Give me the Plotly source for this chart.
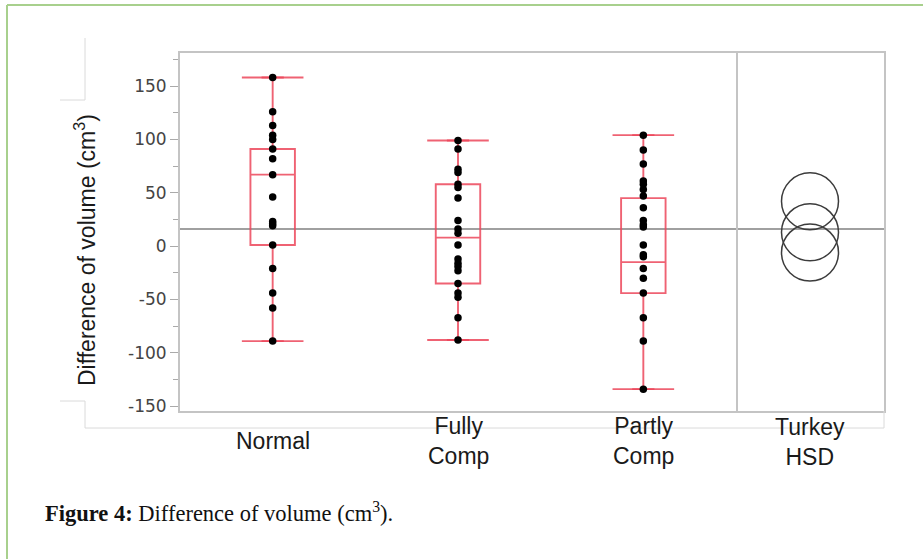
import plotly.graph_objects as go

# ---------------- data ----------------
categories = ["Normal", "Fully Comp", "Partly Comp"]
category_labels = ["Normal", "Fully<br>Comp", "Partly<br>Comp"]

normal_vals = [158, 126, 113, 104, 100, 91, 82, 67, 46, 23, 21, 19, 1, -21, -44, -58, -89]
fully_vals = [99, 91, 72, 69, 58, 55, 45, 24, 16, 12, 1, -12, -16, -19, -23, -35, -44, -48, -67, -88]
partly_vals = [104, 90, 77, 61, 58, 53, 47, 36, 24, 20, 18, 1, -8, -10, -21, -30, -44, -67, -89, -134]

q1_vals = [1, -35, -44]
median_vals = [67, 8, -15]
q3_vals = [91, 58, 45]
lower_whisker = [-89, -88, -134]
upper_whisker = [158, 99, 104]

hsd_category = ["Turkey HSD"]
hsd_label = "Turkey<br>HSD"
hsd_means = [42, 13, -6]
grand_mean = 16

y_tick_vals = [-150, -100, -50, 0, 50, 100, 150]
y_tick_text = ["-150", "-100", "-50", "0", "50", "100", "150"]
y_axis_title = "Difference of volume (cm<sup>3</sup>)"
caption_bold = "Figure 4:"
caption_text = " Difference of volume (cm<sup>3</sup>)."

# ---------------- layout helpers ----------------
W, H = 923, 559
ML, MR, MT, MB = 180, 39, 53, 148
PW, PH = W - ML - MR, H - MT - MB
SPLIT = (736 - ML) / PW


def px_x(p):
    return (p - ML) / PW


def px_y(p):
    return (H - MB - p) / PH


RED = "rgba(236,70,90,0.85)"
FRAME = "#c4c4c4"

fig = go.Figure()

groups = [normal_vals, fully_vals, partly_vals]

fig.add_trace(go.Box(
    x=categories, q1=q1_vals, median=median_vals, q3=q3_vals,
    lowerfence=lower_whisker, upperfence=upper_whisker,
    boxpoints=False, width=0.24,
    line=dict(color=RED, width=1.9), fillcolor="rgba(0,0,0,0)",
    xaxis="x", yaxis="y", showlegend=False, hoverinfo="skip"))

# whisker caps
fig.add_trace(go.Scatter(
    x=categories * 2, y=lower_whisker + upper_whisker, mode="markers",
    marker=dict(symbol="line-ew", size=44, line=dict(color=RED, width=1.9)),
    xaxis="x", yaxis="y", showlegend=False, hoverinfo="skip"))

for cat, vals in zip(categories, groups):
    fig.add_trace(go.Scatter(
        x=[cat] * len(vals), y=vals, mode="markers",
        marker=dict(color="black", size=7.5),
        xaxis="x", yaxis="y", showlegend=False))

# comparison circles
fig.add_trace(go.Scatter(
    x=hsd_category * len(hsd_means), y=hsd_means, mode="markers",
    marker=dict(symbol="circle-open", size=57, color="#3c3c3c",
                line=dict(color="#3c3c3c", width=1.5)),
    xaxis="x2", yaxis="y2", showlegend=False))

yrange = [-154.5, 181]

fig.update_layout(
    width=W, height=H,
    margin=dict(l=ML, r=MR, t=MT, b=MB),
    paper_bgcolor="white", plot_bgcolor="white",
    xaxis=dict(domain=[0, SPLIT], range=[-0.5, 2.5], type="category",
               categoryorder="array", categoryarray=categories,
               showticklabels=False, ticks="", showgrid=False, zeroline=False,
               showline=True, linecolor=FRAME, linewidth=2, mirror=True,
               anchor="y"),
    xaxis2=dict(domain=[SPLIT, 1], range=[-0.5, 0.5], type="category",
                showticklabels=False, ticks="", showgrid=False, zeroline=False,
                showline=True, linecolor=FRAME, linewidth=2, mirror=True,
                anchor="y2"),
    yaxis=dict(range=yrange, tickvals=y_tick_vals, ticktext=y_tick_text,
               ticks="outside", ticklen=8,
               tickcolor="#aaaaaa", tickwidth=1,
               minor=dict(ticks="outside", ticklen=5, dtick=25, tick0=0,
                          tickcolor="#aaaaaa"),
               tickfont=dict(family="DejaVu Sans", size=17, color="#444444"),
               showgrid=False, zeroline=False,
               showline=True, linecolor=FRAME, linewidth=2, mirror=True,
               anchor="x"),
    yaxis2=dict(range=yrange, matches="y", showticklabels=False, ticks="",
                showgrid=False, zeroline=False, side="right",
                showline=True, linecolor=FRAME, linewidth=2, mirror=False,
                anchor="x2"),
)

shapes = []
# grand mean line
shapes.append(dict(type="line", xref="paper", yref="y", x0=0, x1=1,
                   y0=grand_mean, y1=grand_mean,
                   line=dict(color="#a0a0a0", width=2), layer="below"))
# green page border
GREEN = "#a8d08d"
shapes.append(dict(type="line", xref="paper", yref="paper",
                   x0=px_x(7), x1=px_x(923), y0=px_y(5), y1=px_y(5),
                   line=dict(color=GREEN, width=2)))
shapes.append(dict(type="line", xref="paper", yref="paper",
                   x0=px_x(7), x1=px_x(7), y0=px_y(5), y1=px_y(559),
                   line=dict(color=GREEN, width=2)))
# thin report frame fragments
LIGHT = "#dadada"
for (x0, y0, x1, y1) in [(85, 38, 85, 100), (60, 100, 85, 100),
                         (60, 401, 85, 401), (85, 401, 85, 428),
                         (85, 428, 884, 428), (884, 411, 884, 428)]:
    shapes.append(dict(type="line", xref="paper", yref="paper",
                       x0=px_x(x0), x1=px_x(x1), y0=px_y(y0), y1=px_y(y1),
                       line=dict(color=LIGHT, width=1)))
fig.update_layout(shapes=shapes)

LABEL_FONT = dict(family="Liberation Sans", size=23, color="#1a1a1a")
ann = []
for cat, lab in zip(categories, category_labels):
    ann.append(dict(x=cat, xref="x", y=px_y(441), yref="paper", text=lab,
                    showarrow=False, xanchor="center", yanchor="middle",
                    font=LABEL_FONT, align="center"))
ann.append(dict(x=hsd_category[0], xref="x2", y=px_y(442), yref="paper",
                text=hsd_label, showarrow=False, xanchor="center",
                yanchor="middle", font=LABEL_FONT, align="center"))
ann.append(dict(x=px_x(85), xref="paper", y=px_y(250), yref="paper",
                text=y_axis_title, textangle=-90, showarrow=False,
                xanchor="center", yanchor="middle",
                font=dict(family="Liberation Sans", size=23, color="#1a1a1a")))
ann.append(dict(x=px_x(43), xref="paper", y=px_y(512), yref="paper",
                text="<b>" + caption_bold + "</b>" + caption_text,
                showarrow=False, xanchor="left", yanchor="middle",
                font=dict(family="Liberation Serif", size=22.5, color="#111111")))
fig.update_layout(annotations=ann)

fig.write_html("out.html",
               config={"displayModeBar": False},
               post_script="document.body.style.margin='0px';"
                           "document.body.style.overflow='hidden';")
